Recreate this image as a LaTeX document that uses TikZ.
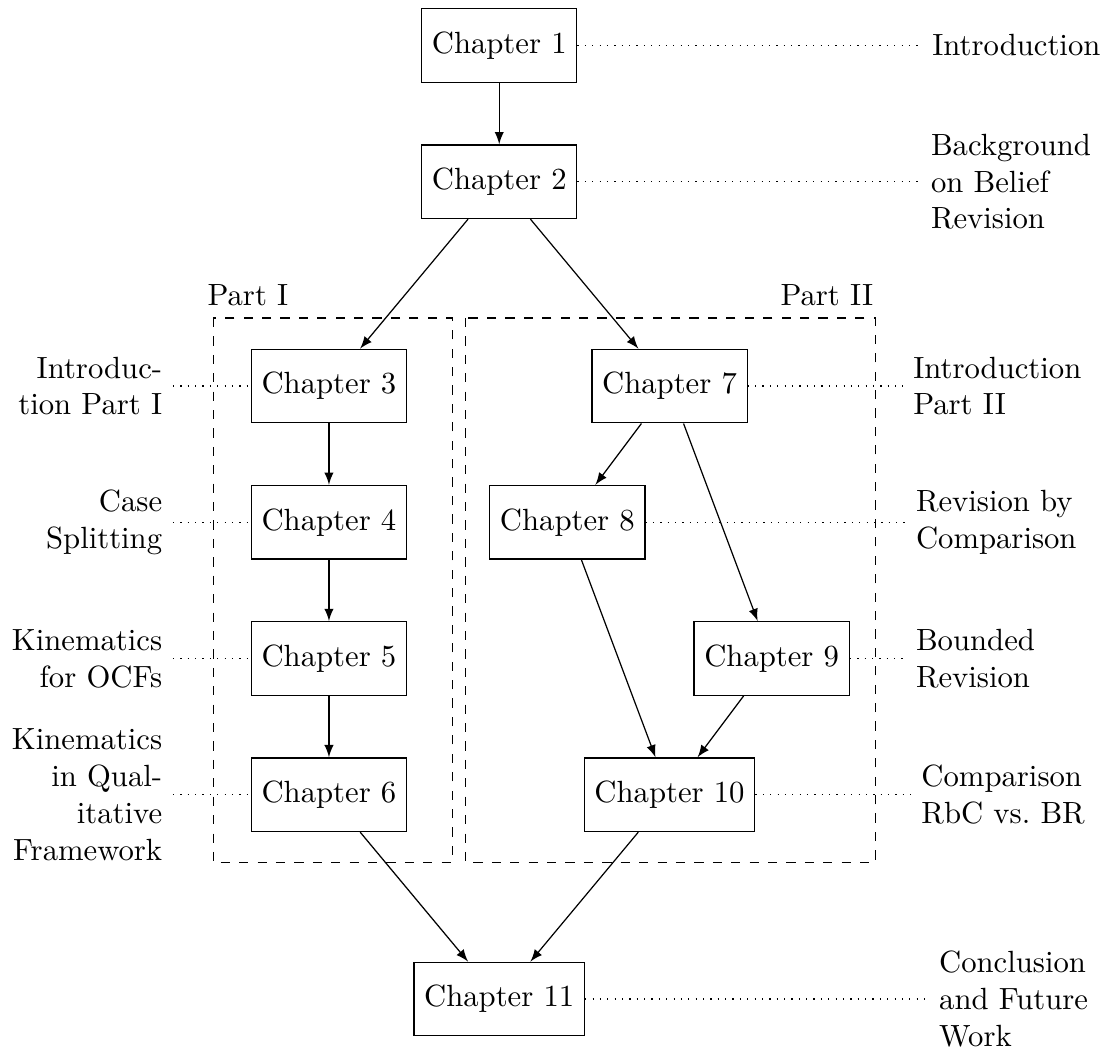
\documentclass[tikz,border=0pt]{standalone}
\usepackage{tikz}
\usetikzlibrary{calc}

\begin{document}
\begin{tikzpicture}[x=0.78cm,y=0.78cm,>=latex,
	chap/.style={draw,minimum height=24pt},
	descr/.style={anchor=west,align=left},
	descl/.style={anchor=east,align=right},
	link/.style={dotted},
	partbox/.style={dashed}]
	%\draw[help lines] (-7,-14) grid (8,0);
	\useasboundingbox (-7.33,0.668) rectangle (8.85,-14.78);

	% parts
	\draw[partbox] (-4.2,-4) rectangle (-0.69,-12);
	\draw[partbox] (-0.49,-4) rectangle (5.52,-12);
	\node[anchor=base] (p1) at (-3.69,-3.81) {Part I};
	\node[anchor=base] (p2) at (4.81,-3.81) {Part II};

	% chapters
	\node[chap] (c1) at (0,0) {Chapter 1};
	\node[chap] (c2) at (0,-2) {Chapter 2};
	\node[chap] (c3) at (-2.5,-5) {Chapter 3};
	\node[chap] (c4) at (-2.5,-7) {Chapter 4};
	\node[chap] (c5) at (-2.5,-9) {Chapter 5};
	\node[chap] (c6) at (-2.5,-11) {Chapter 6};
	\node[chap] (c7) at (2.5,-5) {Chapter 7};
	\node[chap] (c8) at (1,-7) {Chapter 8};
	\node[chap] (c9) at (4,-9) {Chapter 9};
	\node[chap] (c10) at (2.5,-11) {Chapter 10};
	\node[chap] (c11) at (0,-14) {Chapter 11};

	\draw[->] (c1) -- (c2);
	\draw[->] (c2) -- (c3);
	\draw[->] (c2) -- (c7);
	\draw[->] (c3) -- (c4);
	\draw[->] (c4) -- (c5);
	\draw[->] (c5) -- (c6);
	\draw[->] (c7) -- (c8);
	\draw[->] (c7) -- (c9);
	\draw[->] (c8) -- (c10);
	\draw[->] (c9) -- (c10);
	\draw[->] (c6) -- (c11);
	\draw[->] (c10) -- (c11);

	% descriptions right
	\node[descr] (d1) at (6.2,0) {Introduction};
	\node[descr] (d2) at (6.18,-2) {Background\\on Belief\\Revision};
	\node[descr] (d7) at (5.92,-5) {Introduction\\Part II};
	\node[descr] (d8) at (5.96,-7) {Revision by\\Comparison};
	\node[descr] (d9) at (5.96,-9) {Bounded\\Revision};
	\node[descr] (d10) at (6.04,-11) {Comparison\\RbC vs.\ BR};
	\node[descr] (d11) at (6.3,-14) {Conclusion\\and Future\\Work};
	% descriptions left
	\node[descl] (d3) at (-4.79,-5) {Introduc-\\tion Part I};
	\node[descl] (d4) at (-4.79,-7) {Case\\Splitting};
	\node[descl] (d5) at (-4.79,-9) {Kinematics\\for OCFs};
	\node[descl] (d6) at (-4.79,-11) {Kinematics\\in Qual-\\itative\\Framework};

	\draw[link] (c1) -- (d1);
	\draw[link] (c2) -- (d2);
	\draw[link] (c7) -- (d7);
	\draw[link] (c8) -- (d8);
	\draw[link] (c9) -- (d9);
	\draw[link] (c10) -- (d10);
	\draw[link] (c11) -- (d11);
	\draw[link] (d3) -- (c3);
	\draw[link] (d4) -- (c4);
	\draw[link] (d5) -- (c5);
	\draw[link] (d6) -- (c6);
\end{tikzpicture}
\end{document}
